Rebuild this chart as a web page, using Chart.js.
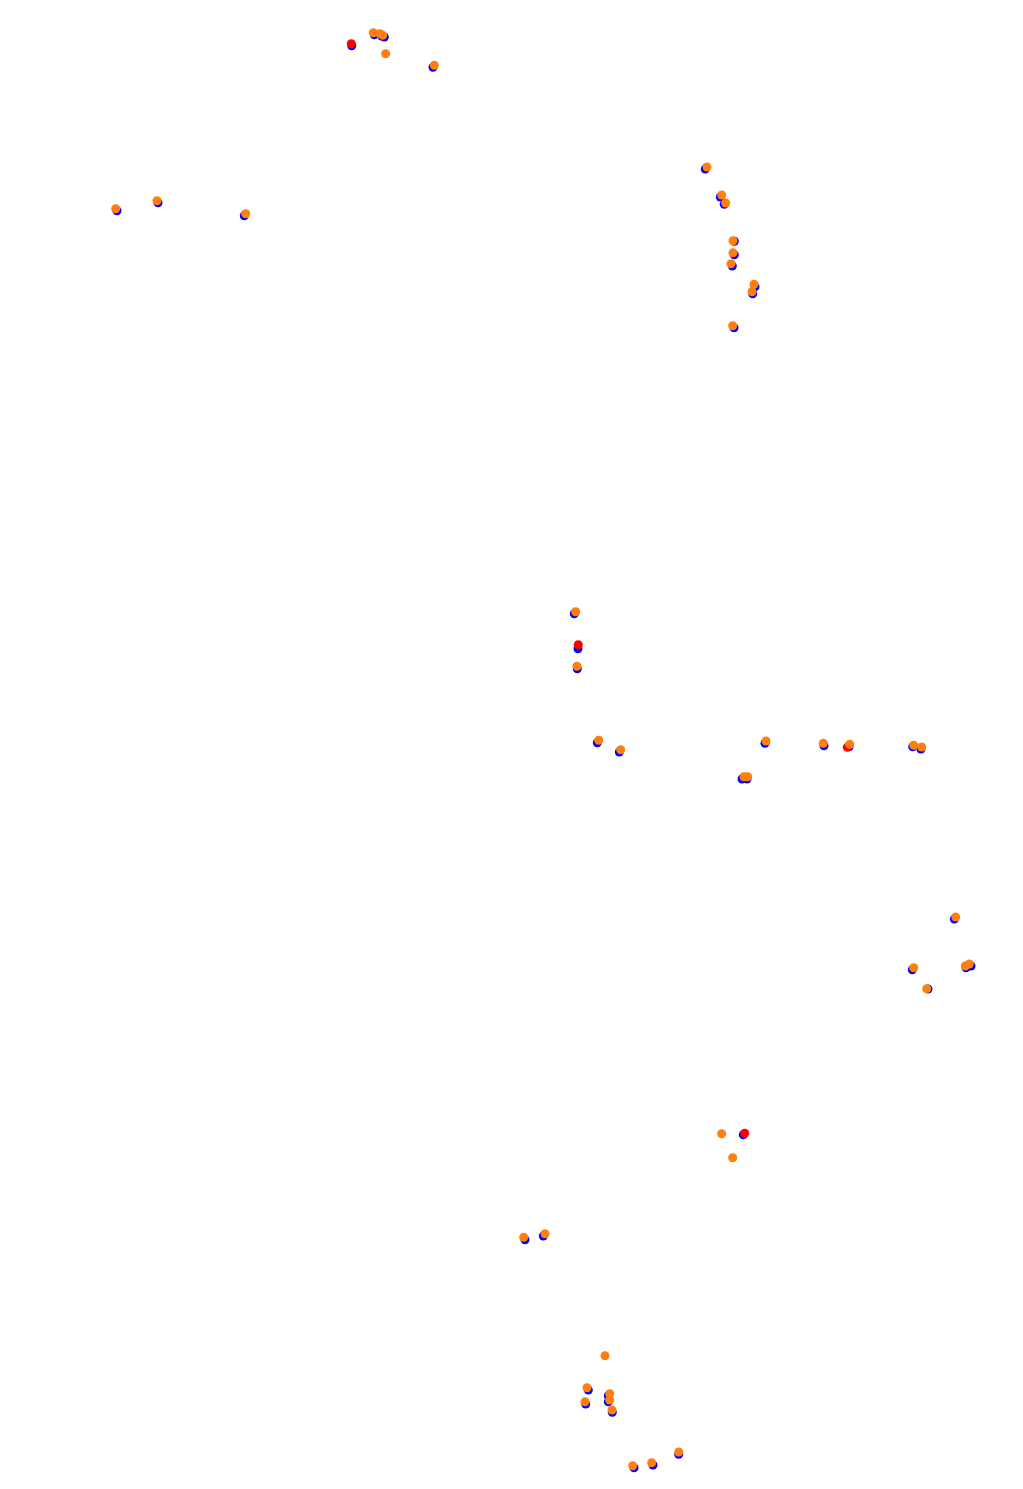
<!DOCTYPE html>
<html>
<head>
<meta charset="utf-8">
<script src="https://cdn.jsdelivr.net/npm/chart.js@4"></script>
<style>
html,body{margin:0;padding:0;background:#fff;}
#wrap{width:1023px;height:1489px;}
</style>
</head>
<body>
<div id="wrap"><canvas id="c" width="1023" height="1489"></canvas></div>
<script>
// Series values (x, y positions in the plotted coordinate system)
const blueX = [705.3,720.3,724.3,734.3,734.3,732.3,755,752.7,734,
  117,158,244.3,
  588.3,608.3,608.3,585.7,612.3,678.7,634,653,
  954.3,912.3,966,971,928,
  525,543.3,
  597.3,619.3,765,742,747,
  824,849,912.7,921,
  351.7,374.3,381.7,384.3,433,
  574.3,578,577.3,
  743.3];
const blueY = [169,197,204.3,241.3,254.7,266,286.7,293.7,327.7,
  210.7,202.7,215.7,
  1390,1395.7,1401.7,1404,1412.3,1454.3,1467.7,1465,
  919,969.7,967.7,966,989,
  1239.7,1236,
  742.7,752,743.3,779,779,
  745.7,746.7,746.7,749,
  45.7,34.7,36,37,67.3,
  613.7,648.7,668.7,
  1134.7];

const redX = [351.3,578.3,847.3,744.7];
const redY = [43.7,644.7,747.3,1133.3];

const orangeX = [707,721.7,725.7,733,733,731,754,752,732.7,
  115.7,157,245.7,
  605,587,609.7,609.7,585,612,678.7,632.7,651.7,
  955.7,913.7,965.3,969.3,926.7,
  523.7,545,
  598.7,620.7,766,744,747.7,
  823.3,849.7,913.7,921.7,
  373.3,380,382.7,385.7,434.3,
  575.7,577,
  721.7,732.7];
const orangeY = [167,195,203,240.7,252.7,263.7,284.3,291.7,325.7,
  208.7,200.7,213.7,
  1355.7,1387.7,1393.7,1400,1401.7,1410,1452,1465.7,1462.7,
  917,967.7,966,964,988.7,
  1237.3,1233.7,
  740.3,749.7,741,776.7,776.7,
  743.3,744.3,745.3,747,
  32.7,33.7,35.3,53.7,65.3,
  611.7,666.3,
  1133.7,1157.7];

function pts(xs, ys){ return xs.map((x,i)=>({x:x, y:ys[i]})); }

new Chart(document.getElementById('c'), {
  type: 'scatter',
  data: {
    datasets: [
      { label:'orange', data: pts(orangeX, orangeY), backgroundColor:'#ff7f0e', borderWidth:0, pointRadius:4.5, order:0 },
      { label:'red', data: pts(redX, redY), backgroundColor:'#ff0000', borderWidth:0, pointRadius:4.5, order:1 },
      { label:'blue', data: pts(blueX, blueY), backgroundColor:'#0000ff', borderWidth:0, pointRadius:4.5, order:2 }
    ]
  },
  options: {
    responsive:false,
    animation:false,
    events:[],
    layout:{padding:0, autoPadding:false},
    plugins:{legend:{display:false}, tooltip:{enabled:false}},
    scales:{
      x:{type:'linear', min:0, max:1023, display:false},
      y:{type:'linear', min:0, max:1489, reverse:true, display:false}
    }
  }
});
</script>
</body>
</html>
